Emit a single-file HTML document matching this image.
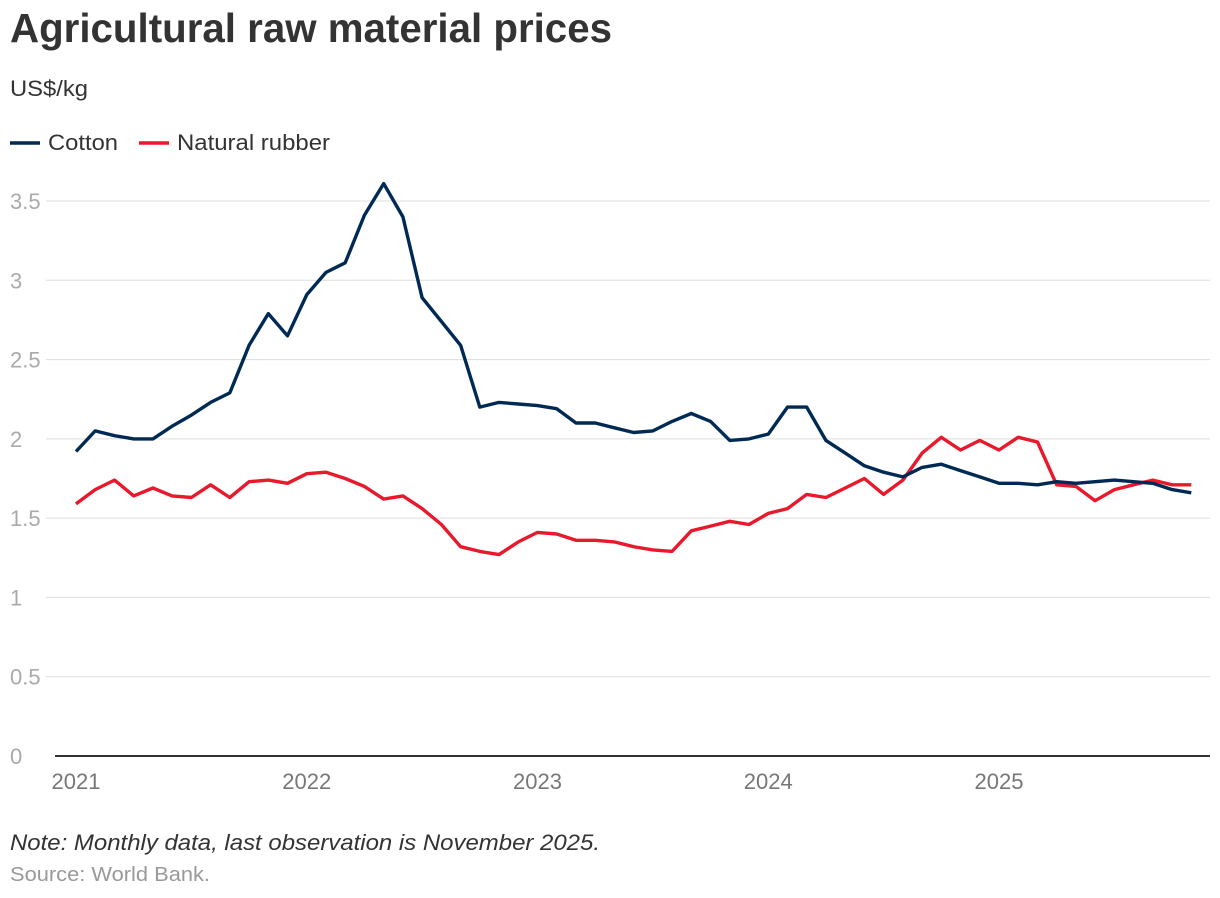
<!DOCTYPE html>
<html><head><meta charset="utf-8"><style>
html,body{margin:0;padding:0;background:#fff;width:1220px;height:898px;overflow:hidden}
svg{display:block;font-family:"Liberation Sans",Arial,sans-serif}
</style></head><body>
<svg id="chart" width="1220" height="898">
<text x="10" y="42" font-size="41" font-weight="bold" fill="#333" textLength="602" lengthAdjust="spacingAndGlyphs">Agricultural raw material prices</text>
<text x="10" y="96" font-size="22" fill="#333" textLength="78" lengthAdjust="spacingAndGlyphs">US$/kg</text>
<g>
<g><line x1="10" y1="143" x2="40" y2="143" stroke="#002a54" stroke-width="3.5"/><text x="48" y="150" font-size="22" fill="#333" textLength="70" lengthAdjust="spacingAndGlyphs">Cotton</text></g>
<g><line x1="139" y1="143" x2="169" y2="143" stroke="#e8192c" stroke-width="3.5"/><text x="177" y="150" font-size="22" fill="#333" textLength="153" lengthAdjust="spacingAndGlyphs">Natural rubber</text></g>
</g>
<g id="grid"></g><g id="series"></g>
<text x="10" y="850" font-size="22" font-style="italic" fill="#333" textLength="590" lengthAdjust="spacingAndGlyphs">Note: Monthly data, last observation is November 2025.</text>
<text x="10" y="881" font-size="20" fill="#999" textLength="200" lengthAdjust="spacingAndGlyphs">Source: World Bank.</text>
</svg>
<script>
const yTicks=[0,0.5,1,1.5,2,2.5,3,3.5];
const yTickLabels=["0","0.5","1","1.5","2","2.5","3","3.5"];
const xYears=[2021,2022,2023,2024,2025];
const cotton=[1.92,2.05,2.02,2.00,2.00,2.08,2.15,2.23,2.29,2.59,2.79,2.65,
2.91,3.05,3.11,3.41,3.61,3.40,2.89,2.74,2.59,2.20,2.23,2.22,
2.21,2.19,2.10,2.10,2.07,2.04,2.05,2.11,2.16,2.11,1.99,2.00,
2.03,2.20,2.20,1.99,1.91,1.83,1.79,1.76,1.82,1.84,1.80,1.76,
1.72,1.72,1.71,1.73,1.72,1.73,1.74,1.73,1.72,1.68,1.66];
const rubber=[1.59,1.68,1.74,1.64,1.69,1.64,1.63,1.71,1.63,1.73,1.74,1.72,
1.78,1.79,1.75,1.70,1.62,1.64,1.56,1.46,1.32,1.29,1.27,1.35,
1.41,1.40,1.36,1.36,1.35,1.32,1.30,1.29,1.42,1.45,1.48,1.46,
1.53,1.56,1.65,1.63,1.69,1.75,1.65,1.74,1.91,2.01,1.93,1.99,
1.93,2.01,1.98,1.71,1.70,1.61,1.68,1.71,1.74,1.71,1.71];
const NS="http://www.w3.org/2000/svg";
const y=v=>756-v*158.57;
const x=i=>76+i*230.75/12;
const grid=document.getElementById('grid'),ser=document.getElementById('series');
function mk(tag,attrs,parent){const e=document.createElementNS(NS,tag);for(const k in attrs)e.setAttribute(k,attrs[k]);parent.appendChild(e);return e;}
yTicks.forEach((t,i)=>{
 if(t>0){const l=mk('line',{x1:46,x2:1210,y1:y(t),y2:y(t),stroke:'#ddd','stroke-width':1},grid);
 
 }
 const tx=mk('text',{x:10,y:y(t)+8,'font-size':22,fill:'#aaa'},grid);tx.textContent=yTickLabels[i];
 
 
});
const ax=mk('line',{x1:55,x2:1210,y1:756,y2:756,stroke:'#333','stroke-width':2},grid);


xYears.forEach((yr,i)=>{const tx=mk('text',{x:x(i*12),y:789,'font-size':22,fill:'#777','text-anchor':'middle'},grid);tx.textContent=yr;
 
 });
function line(data,color,name){const p=mk('polyline',{points:data.map((v,i)=>x(i).toFixed(1)+','+y(v).toFixed(1)).join(' '),fill:'none',stroke:color,'stroke-width':3.4,'stroke-linejoin':'round'},ser);
 
 }
line(rubber,'#e8192c','natural-rubber-line');
line(cotton,'#002a54','cotton-line');
</script>
</body></html>
